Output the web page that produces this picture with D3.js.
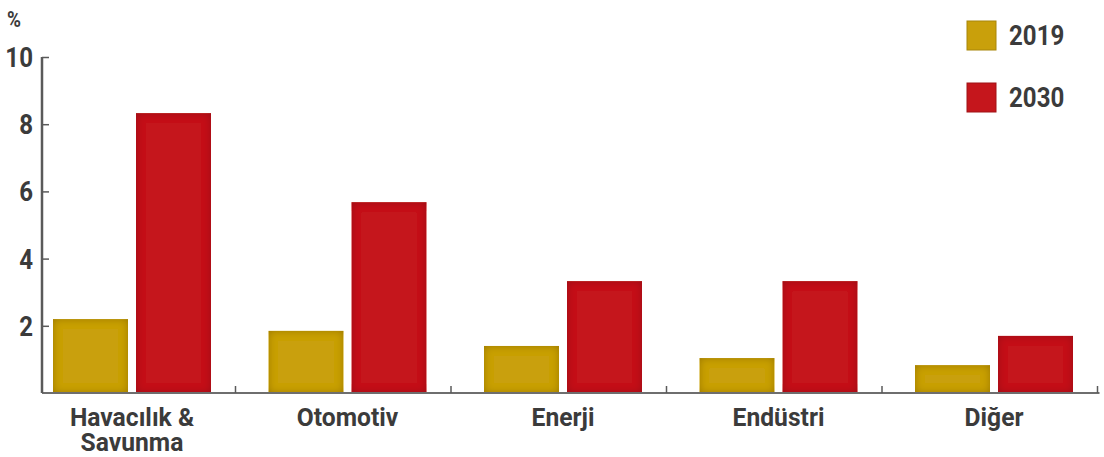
<!DOCTYPE html>
<html>
<head>
<meta charset="utf-8">
<script src="https://cdn.jsdelivr.net/npm/d3@7"></script>
<style>
  html, body { margin: 0; padding: 0; background: #fff; }
  svg { display: block; }
  text { font-family: "Roboto", "Liberation Sans", sans-serif; font-weight: 700; fill: #3b3b3b; }
</style>
</head>
<body>
<svg id="chart" width="1104" height="457"></svg>
<script>
// Sector shares (%), 2019 vs 2030
const categories = [["Havacılık &", "Savunma"], ["Otomotiv"], ["Enerji"], ["Endüstri"], ["Diğer"]];
const years = ["2019", "2030"];
const values2019 = [2.2, 1.85, 1.4, 1.04, 0.83];
const values2030 = [8.33, 5.68, 3.33, 3.33, 1.7];
const yTicks = [2, 4, 6, 8, 10];
const colors = ["#c9a00b", "#c5161c"];
const condense = 0.86;
const labelCondense = 0.93;

const svg = d3.select("#chart");
const defs = svg.append("defs");

// soft inner shading on the bar edges
const f = defs.append("filter").attr("id", "inset")
  .attr("x", "-5%").attr("y", "-5%").attr("width", "110%").attr("height", "110%");
f.append("feGaussianBlur").attr("in", "SourceAlpha").attr("stdDeviation", 4.5).attr("result", "blur");
f.append("feComposite").attr("in", "SourceAlpha").attr("in2", "blur")
  .attr("operator", "arithmetic").attr("k2", 1).attr("k3", -1).attr("result", "edge");
f.append("feFlood").attr("flood-color", "#3a0000").attr("flood-opacity", 0.5).attr("result", "col");
f.append("feComposite").attr("in", "col").attr("in2", "edge").attr("operator", "in").attr("result", "shadow");
const m = f.append("feMerge");
m.append("feMergeNode").attr("in", "SourceGraphic");
m.append("feMergeNode").attr("in", "shadow");

const x0 = d3.scaleBand().domain(d3.range(categories.length)).range([20, 1097.5]).padding(0);
const x1 = d3.scaleBand().domain(years).range([33, 191]).paddingInner(0.0964).paddingOuter(0);
const y = d3.scaleLinear().domain([0, 10]).range([393, 57]);

const data = categories.map((c, i) => ({ i, vals: [values2019[i], values2030[i]] }));

// bars
const groups = svg.append("g").selectAll("g").data(data).join("g")
  .attr("transform", d => `translate(${x0(d.i)},0)`);
groups.selectAll("rect").data(d => d.vals.map((v, k) => ({ v, k })))
  .join("rect")
  .attr("x", d => x1(years[d.k]))
  .attr("width", x1.bandwidth())
  .attr("y", d => y(d.v))
  .attr("height", d => y(0) - y(d.v))
  .attr("fill", d => colors[d.k])
  .attr("filter", "url(#inset)");

// x axis: baseline with ticks at the category boundaries
const axisColor = "#5a5a5a";
svg.append("line").attr("x1", 42).attr("x2", x0.range()[1] + 2)
  .attr("y1", y(0)).attr("y2", y(0)).attr("stroke", "#6e6e6e").attr("stroke-width", 2);
svg.append("g").selectAll("line").data(d3.range(1, categories.length + 1)).join("line")
  .attr("x1", i => x0.range()[0] + i * x0.step()).attr("x2", i => x0.range()[0] + i * x0.step())
  .attr("y1", y(0)).attr("y2", y(0) - 7)
  .attr("stroke", axisColor).attr("stroke-width", 1.5);

// y axis
const yAxis = d3.axisRight(y).tickValues(yTicks).tickSize(7).tickFormat("");
const ya = svg.append("g").attr("transform", "translate(42,0)").call(yAxis);
ya.select(".domain").attr("d", `M0,${y(10)}V${y(0)}`).attr("stroke", axisColor).attr("stroke-width", 2.5);
ya.selectAll(".tick line").attr("stroke", axisColor).attr("stroke-width", 1.5);

svg.append("g").selectAll("text").data(yTicks).join("text")
  .attr("transform", d => `translate(33,${y(d) + 10}) scale(${condense},1)`)
  .attr("text-anchor", "end").attr("font-size", 28).text(d => d);

svg.append("text").attr("transform", `translate(7,27) scale(${condense},1)`)
  .attr("font-size", 22).text("%");

// category labels
const labels = svg.append("g").selectAll("text").data(data).join("text")
  .attr("transform", d => `translate(${x0(d.i) + (x1.range()[0] + x1.range()[1]) / 2},426) scale(${labelCondense},1)`)
  .attr("text-anchor", "middle").attr("font-size", 26.5);
labels.selectAll("tspan").data(d => categories[d.i]).join("tspan")
  .attr("x", 0).attr("dy", (d, k) => k === 0 ? 0 : 25).text(d => d);

// legend
const legend = svg.append("g").selectAll("g").data(years).join("g")
  .attr("transform", (d, k) => `translate(967,${21 + k * 62})`);
legend.append("rect").attr("width", 29).attr("height", 29)
  .attr("fill", (d, k) => colors[k])
  .attr("stroke", (d, k) => k === 0 ? "#a8860a" : "#a01216").attr("stroke-width", 1);
legend.append("text").attr("transform", `translate(42,24) scale(${condense},1)`)
  .attr("font-size", 28).text(d => d);
</script>
</body>
</html>
